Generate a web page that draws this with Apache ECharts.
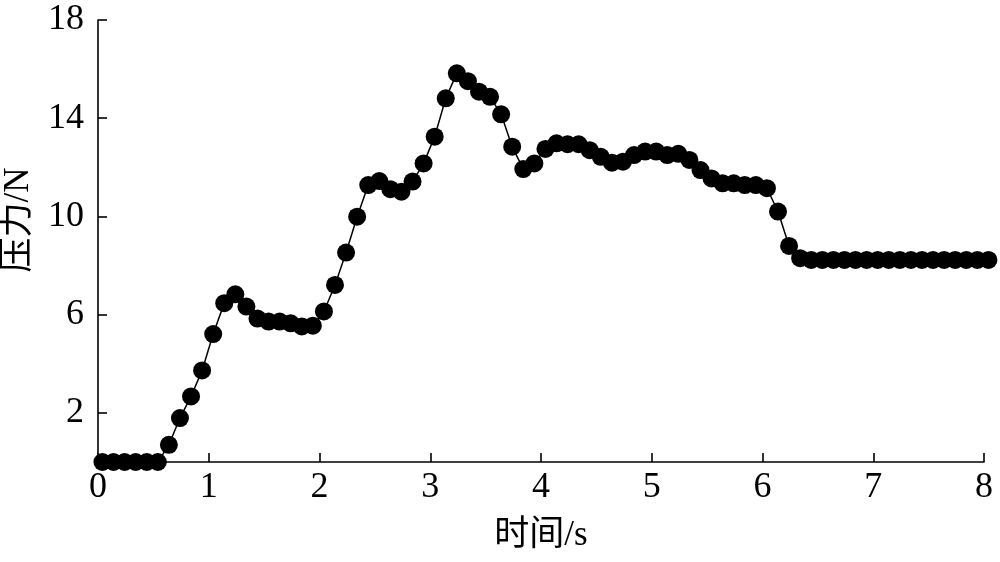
<!DOCTYPE html>
<html>
<head>
<meta charset="utf-8">
<script src="https://cdn.jsdelivr.net/npm/echarts@6/dist/echarts.min.js"></script>
<style>
html,body{margin:0;padding:0;background:#fff;}
#chart{width:1000px;height:562px;}
</style>
</head>
<body>
<div id="chart"></div>
<script>
const timeS = [0.04,0.14,0.24,0.34,0.44,0.54,0.64,0.74,0.84,0.94,
  1.04,1.14,1.24,1.34,1.44,1.54,1.64,1.74,1.84,1.94,
  2.04,2.14,2.24,2.34,2.44,2.54,2.64,2.74,2.84,2.94,
  3.04,3.14,3.24,3.34,3.44,3.54,3.64,3.74,3.84,3.94,
  4.04,4.14,4.24,4.34,4.44,4.54,4.64,4.74,4.84,4.94,
  5.04,5.14,5.24,5.34,5.44,5.54,5.64,5.74,5.84,5.94,
  6.04,6.14,6.24,6.34,6.44,6.54,6.64,6.74,6.84,6.94,
  7.04,7.14,7.24,7.34,7.44,7.54,7.64,7.74,7.84,7.94,
  8.04];
const forceN = [0,0,0,0,0,0,0.70,1.79,2.67,3.73,
  5.21,6.47,6.83,6.33,5.84,5.72,5.72,5.65,5.52,5.55,
  6.13,7.21,8.53,9.99,11.28,11.44,11.11,11.01,11.42,12.16,
  13.25,14.81,15.83,15.51,15.08,14.87,14.16,12.84,11.93,12.16,
  12.75,12.98,12.94,12.94,12.70,12.43,12.19,12.23,12.50,12.64,
  12.64,12.50,12.55,12.30,11.89,11.55,11.35,11.35,11.28,11.28,
  11.15,10.20,8.80,8.30,8.23,8.23,8.23,8.23,8.23,8.23,
  8.23,8.23,8.23,8.23,8.23,8.23,8.23,8.23,8.23,8.23,
  8.23];
const yTickValues = [2,6,10,14,18];
const xAxisTitle = '时间/s';
const yAxisTitle = '压力/N';

const FONT = "'Liberation Serif','Times New Roman','Noto Sans CJK SC',serif";
const chart = echarts.init(document.getElementById('chart'), null, {renderer:'canvas'});
const pts = timeS.map((t,i)=>[t, forceN[i]]);
chart.setOption({
  backgroundColor:'#fff',
  animation:false,
  grid:{left:98, right:16, top:20, bottom:100, containLabel:false, outerBoundsMode:'none'},
  xAxis:{
    type:'value', min:0, max:8, interval:1,
    name:xAxisTitle, nameLocation:'middle', nameGap:56,
    nameTextStyle:{fontFamily:FONT, fontSize:35, color:'#000'},
    axisLine:{show:true, onZero:false, lineStyle:{color:'#000', width:1.6}},
    axisTick:{show:true, inside:true, length:9, lineStyle:{color:'#000', width:1.6}},
    axisLabel:{fontFamily:FONT, fontSize:36, color:'#000', margin:8},
    splitLine:{show:false}
  },
  yAxis:{
    type:'value', min:0, max:18,
    name:yAxisTitle, nameLocation:'middle', nameGap:62, nameRotate:90,
    nameTextStyle:{fontFamily:FONT, fontSize:35, color:'#000', padding:[0,0,0,42]},
    axisLine:{show:true, onZero:false, lineStyle:{color:'#000', width:1.6}},
    axisTick:{show:true, inside:true, length:9, customValues:yTickValues, lineStyle:{color:'#000', width:1.6}},
    axisLabel:{fontFamily:FONT, fontSize:36, color:'#000', margin:14, customValues:yTickValues},
    splitLine:{show:false}
  },
  series:[{
    type:'line',
    data:pts,
    clip:false,
    symbol:'circle',
    symbolSize:18,
    itemStyle:{color:'#000'},
    lineStyle:{color:'#000', width:1.5}
  }]
});
</script>
</body>
</html>
